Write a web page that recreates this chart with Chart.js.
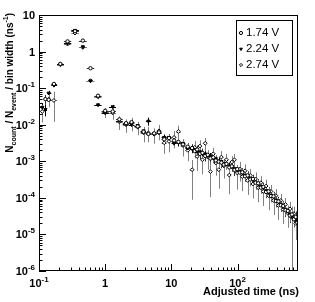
<!DOCTYPE html>
<html>
<head>
<meta charset="utf-8">
<script src="https://cdn.jsdelivr.net/npm/chart.js@4.4.1/dist/chart.umd.min.js"></script>
<style>
  html, body { margin: 0; padding: 0; background: #fff; }
  #wrap { width: 315px; height: 302px; }
</style>
</head>
<body>
<div id="wrap"><canvas id="chartTime" width="315" height="302"></canvas></div>
<script>
// bin centres (ns)
const binCenters = [
  0.112, 0.125, 0.14, 0.168, 0.21, 0.27, 0.35, 0.46, 0.6, 0.78,
  1.0, 1.3, 1.64, 2.07, 2.5, 3.1, 3.8, 4.5, 5.5, 6.5,
  7.8, 9.2, 11, 12.8, 15, 17.7, 20.6, 22.5, 24.5, 27,
  29.5, 32.5, 35.5, 39, 43, 47, 52, 57, 62, 68,
  75, 82, 90, 99, 108, 118, 130, 142, 156, 171,
  187, 205, 225, 245, 270, 295, 320, 350, 380, 415,
  450, 490, 530, 575, 620, 665, 710, 755, 800
];

const seriesLabels = ['1.74 V', '2.24 V', '2.74 V'];

// N_count / N_event / bin width (ns^-1)
const rate174 = [
  null, 0.050, 0.048, 0.13, 0.46, 1.9, 3.6, 2.0, 0.35, 0.062,
  0.024, 0.023, 0.014, 0.011, 0.0118, 0.0090, 0.0064, 0.0056, 0.0058, 0.0062,
  0.0040, 0.0043, 0.0037, 0.0034, 0.0029, 0.0025, 0.0023, 0.0019, 0.0021, 0.0016,
  0.0017, 0.0014, 0.0015, 0.0012, 0.00128, 0.00105, 0.00098, 0.00092, 0.00081, 0.00085,
  0.00068, 0.00073, 0.00058, 0.00061, 0.00049, 0.00050, 0.00039, 0.00041, 0.00032, 0.00033,
  0.00026, 0.00025, 0.00019, 0.00020, 0.000145, 0.000150, 0.000112, 0.000110, 0.000082, 0.000080,
  0.000063, 0.000060, 0.000046, 0.000044, 0.000033, 0.000035, 0.000026, 0.000030, 0.000021
];
const rate224 = [
  0.030, 0.026, 0.073, 0.12, 0.45, 1.7, 3.8, 1.35, 0.158, 0.035,
  0.021, 0.031, 0.013, 0.0105, 0.0100, 0.0095, 0.0068, 0.0125, 0.0057, 0.0060,
  0.0045, 0.0045, 0.0031, 0.0032, 0.0031, 0.0023, 0.0022, 0.0021, 0.00185, 0.00182,
  0.00160, 0.00158, 0.00142, 0.00138, 0.00122, 0.00118, 0.00102, 0.00099, 0.00088, 0.00084,
  0.00075, 0.00071, 0.00063, 0.00059, 0.00052, 0.00049, 0.00042, 0.00040, 0.00034, 0.00031,
  0.00027, 0.000245, 0.000205, 0.000188, 0.000158, 0.000140, 0.000118, 0.000106, 0.000088, 0.000079,
  0.000067, 0.000058, 0.000049, 0.000043, 0.000036, 0.000031, 0.000027, 0.000024, 0.000023
];
const rate274 = [
  0.023, null, 0.050, 0.046, 0.44, 1.6, 3.2, 1.3, 0.16, 0.058,
  0.022, 0.021, 0.012, 0.0100, 0.0110, 0.0086, 0.0060, 0.0060, 0.0055, 0.0068,
  0.0032, 0.0035, 0.0045, 0.0065, 0.0027, 0.0020, 0.00059, 0.0024, 0.00135, 0.0026,
  0.0011, 0.0031, 0.0013, 0.00052, 0.0016, 0.00090, 0.00059, 0.0013, 0.00075, 0.00110,
  0.00042, 0.00095, 0.00110, 0.00048, 0.00062, 0.00038, 0.00055, 0.00030, 0.00041, 0.00024,
  0.00033, 0.00019, 0.00026, 0.00015, 0.00021, 0.000115, 0.000150, 0.000085, 0.000115, 0.000062,
  0.000085, 0.000048, 0.000066, 0.000038, 0.000050, 0.000029, 0.000037, 0.000020, 0.000028
];

// relative errors
const err174 = [
  0, 0.30, 0.35, 0.12, 0.06, 0.05, 0.05, 0.05, 0.06, 0.10,
  0.15, 0.15, 0.18, 0.20, 0.20, 0.20, 0.22, 0.22, 0.22, 0.22,
  0.25, 0.25, 0.25, 0.25, 0.25, 0.25, 0.28, 0.30, 0.28, 0.30,
  0.30, 0.30, 0.30, 0.32, 0.30, 0.30, 0.30, 0.30, 0.30, 0.30,
  0.32, 0.30, 0.32, 0.30, 0.30, 0.30, 0.30, 0.30, 0.30, 0.30,
  0.32, 0.30, 0.32, 0.30, 0.32, 0.30, 0.32, 0.32, 0.33, 0.33,
  0.35, 0.35, 0.35, 0.38, 0.38, 0.40, 0.40, 0.42, 0.45
];
const err224 = [
  0.30, 0.35, 0.15, 0.10, 0.05, 0.04, 0.04, 0.05, 0.06, 0.08,
  0.12, 0.12, 0.15, 0.15, 0.15, 0.15, 0.18, 0.25, 0.18, 0.18,
  0.20, 0.20, 0.20, 0.20, 0.20, 0.22, 0.22, 0.22, 0.22, 0.22,
  0.22, 0.22, 0.22, 0.22, 0.22, 0.22, 0.22, 0.22, 0.22, 0.22,
  0.22, 0.22, 0.22, 0.22, 0.22, 0.22, 0.22, 0.22, 0.22, 0.22,
  0.24, 0.24, 0.24, 0.24, 0.25, 0.25, 0.25, 0.26, 0.26, 0.27,
  0.28, 0.28, 0.30, 0.30, 0.32, 0.32, 0.34, 0.35, 0.36
];
const err274 = [
  0.50, 0, 0.40, 0.74, 0.08, 0.06, 0.06, 0.06, 0.08, 0.15,
  0.30, 0.35, 0.40, 0.40, 0.40, 0.40, 0.45, 0.45, 0.45, 0.45,
  0.50, 0.50, 0.50, 0.45, 0.50, 0.50, 0.85, 0.50, 0.60, 0.45,
  0.60, 0.40, 0.55, 0.80, 0.45, 0.55, 0.70, 0.45, 0.55, 0.45,
  0.70, 0.45, 0.45, 0.65, 0.55, 0.60, 0.50, 0.60, 0.50, 0.60,
  0.50, 0.60, 0.50, 0.60, 0.50, 0.60, 0.50, 0.60, 0.50, 0.60,
  0.50, 0.60, 0.50, 0.60, 0.55, 1.00, 0.55, 0.65, 0.55
];

// axis ticks and their labels (base, exponent)
const xTicks = [0.1, 1, 10, 100];
const xTickLabels = [['10', '-1'], ['1', ''], ['10', ''], ['10', '2']];
const yTicks = [1e-6, 1e-5, 1e-4, 1e-3, 1e-2, 1e-1, 1, 10];
const yTickLabels = [['10', '-6'], ['10', '-5'], ['10', '-4'], ['10', '-3'], ['10', '-2'], ['10', '-1'], ['1', ''], ['10', '']];

const FONT = '"Liberation Sans", Arial, Helvetica, sans-serif';

function toPoints(vals) {
  const pts = [];
  vals.forEach((v, i) => { if (v !== null) pts.push({ x: binCenters[i], y: v }); });
  return pts;
}

const rates = [rate174, rate224, rate274];
const errs = [err174, err224, err274];
const barColors = ['#333', '#000', '#808080'];

// vertical + horizontal error bars
const errorBars = {
  id: 'errorBars',
  beforeDatasetsDraw(chart) {
    const ctx = chart.ctx, xs = chart.scales.x, ys = chart.scales.y;
    const area = chart.chartArea;
    ctx.save();
    ctx.beginPath();
    ctx.rect(area.left, area.top, area.right - area.left, area.bottom - area.top);
    ctx.clip();
    ctx.lineWidth = 1;
    rates.forEach((vals, s) => {
      ctx.strokeStyle = barColors[s];
      vals.forEach((v, i) => {
        if (v === null) return;
        const e = errs[s][i];
        const px = Math.round(xs.getPixelForValue(binCenters[i])) + 0.5;
        const lo = v * (1 - e);
        const yTop = ys.getPixelForValue(v * (1 + e));
        const yBot = lo > ys.min ? ys.getPixelForValue(lo) : area.bottom;
        ctx.beginPath();
        ctx.moveTo(px, yTop);
        ctx.lineTo(px, yBot);
        // bin edges in log space from neighbouring centres
        const c = binCenters[i];
        const l = i > 0 ? Math.sqrt(binCenters[i - 1] * c) : c / Math.sqrt(binCenters[1] / c);
        const r = i < binCenters.length - 1 ? Math.sqrt(binCenters[i + 1] * c) : c * Math.sqrt(c / binCenters[i - 1]);
        const py = Math.round(ys.getPixelForValue(v)) + 0.5;
        ctx.moveTo(xs.getPixelForValue(l), py);
        ctx.lineTo(xs.getPixelForValue(r), py);
        ctx.stroke();
      });
    });
    ctx.restore();
  }
};

function drawPow(ctx, base, exp, x, y, align) {
  ctx.font = 'bold 11px ' + FONT;
  const wb = ctx.measureText(base).width;
  ctx.font = 'bold 8px ' + FONT;
  const we = exp ? ctx.measureText(exp).width : 0;
  const w = wb + we;
  let x0 = x;
  if (align === 'right') x0 = x - w;
  if (align === 'center') x0 = x - w / 2;
  ctx.textAlign = 'left';
  ctx.textBaseline = 'alphabetic';
  ctx.font = 'bold 11px ' + FONT;
  ctx.fillText(base, x0, y);
  if (exp) {
    ctx.font = 'bold 8px ' + FONT;
    ctx.fillText(exp, x0 + wb, y - 5);
  }
}

// ROOT style frame, inward ticks, labels, titles and legend box
const rootFrame = {
  id: 'rootFrame',
  afterDraw(chart) {
    const ctx = chart.ctx, xs = chart.scales.x, ys = chart.scales.y;
    const a = chart.chartArea;
    ctx.save();
    ctx.strokeStyle = '#000';
    ctx.lineWidth = 1;
    ctx.strokeRect(a.left + 0.5, a.top + 0.5, a.right - a.left - 1, a.bottom - a.top - 1);

    // x ticks
    ctx.beginPath();
    for (let d = 0.1; d <= 100; d *= 10) {
      for (let m = 1; m <= 9; m++) {
        const v = d * m;
        if (v > xs.max) break;
        const px = Math.round(xs.getPixelForValue(v)) + 0.5;
        const len = m === 1 ? 7 : 3.5;
        ctx.moveTo(px, a.bottom);
        ctx.lineTo(px, a.bottom - len);
      }
    }
    // y ticks
    for (let d = 1e-6; d < 10; d *= 10) {
      for (let m = 1; m <= 9; m++) {
        const v = d * m;
        const py = Math.round(ys.getPixelForValue(v)) + 0.5;
        const len = m === 1 ? 7 : 3.5;
        ctx.moveTo(a.left, py);
        ctx.lineTo(a.left + len, py);
      }
    }
    ctx.stroke();

    ctx.fillStyle = '#000';
    xTicks.forEach((v, i) => {
      drawPow(ctx, xTickLabels[i][0], xTickLabels[i][1], xs.getPixelForValue(v), 287, 'center');
    });
    yTicks.forEach((v, i) => {
      drawPow(ctx, yTickLabels[i][0], yTickLabels[i][1], 35, ys.getPixelForValue(v) + 4, 'right');
    });

    // x title
    ctx.font = 'bold 11px ' + FONT;
    ctx.textAlign = 'right';
    ctx.fillText('Adjusted time (ns)', 299, 295);

    // y title, rotated, with sub/superscripts
    const parts = [
      ['N', 10, 0], ['count', 7, 3], [' / N', 10, 0], ['event', 7, 3],
      [' / bin width (ns', 10, 0], ['-1', 7, -5], [')', 10, 0]
    ];
    let total = 0;
    parts.forEach(p => { ctx.font = 'bold ' + p[1] + 'px ' + FONT; total += ctx.measureText(p[0]).width; });
    ctx.translate(13, 13);
    ctx.rotate(-Math.PI / 2);
    ctx.textAlign = 'left';
    let cx = -total;
    parts.forEach(p => {
      ctx.font = 'bold ' + p[1] + 'px ' + FONT;
      ctx.fillText(p[0], cx, p[2]);
      cx += ctx.measureText(p[0]).width;
    });
    ctx.setTransform(1, 0, 0, 1, 0, 0);

    // legend
    ctx.strokeStyle = '#000';
    ctx.strokeRect(236.5, 20.5, 56, 55);
    const rows = [33, 49, 65];
    chart.data.datasets.forEach((ds, i) => {
      ctx.fillStyle = ds.backgroundColor;
      ctx.strokeStyle = ds.borderColor;
      ctx.lineWidth = 1;
      Chart.helpers.drawPoint(ctx, {
        pointStyle: ds.pointStyle, rotation: ds.rotation || 0,
        radius: 1.6, borderWidth: 1
      }, 241, rows[i]);
      ctx.fillStyle = '#000';
      ctx.font = '11.5px ' + FONT;
      ctx.textAlign = 'left';
      ctx.textBaseline = 'middle';
      ctx.fillText(seriesLabels[i], 246, rows[i]);
    });
    ctx.restore();
  }
};

new Chart(document.getElementById('chartTime'), {
  type: 'scatter',
  data: {
    datasets: [{
      label: seriesLabels[0],
      data: toPoints(rate174),
      pointStyle: 'circle',
      pointRadius: 1.7,
      backgroundColor: '#fff',
      borderColor: '#000',
      pointBorderWidth: 1
    }, {
      label: seriesLabels[1],
      data: toPoints(rate224),
      pointStyle: 'triangle',
      rotation: 180,
      pointRadius: 1.9,
      backgroundColor: '#000',
      borderColor: '#000',
      pointBorderWidth: 1
    }, {
      label: seriesLabels[2],
      data: toPoints(rate274),
      pointStyle: 'rectRot',
      pointRadius: 1.9,
      backgroundColor: '#fff',
      borderColor: '#000',
      pointBorderWidth: 1
    }]
  },
  options: {
    responsive: false,
    animation: false,
    layout: { padding: { left: 39, right: 17, top: 15, bottom: 31 } },
    plugins: { legend: { display: false }, tooltip: { enabled: false } },
    scales: {
      x: { type: 'logarithmic', min: 0.1, max: 820, display: false },
      y: { type: 'logarithmic', min: 1e-6, max: 10, display: false }
    }
  },
  plugins: [errorBars, rootFrame]
});
</script>
</body>
</html>
